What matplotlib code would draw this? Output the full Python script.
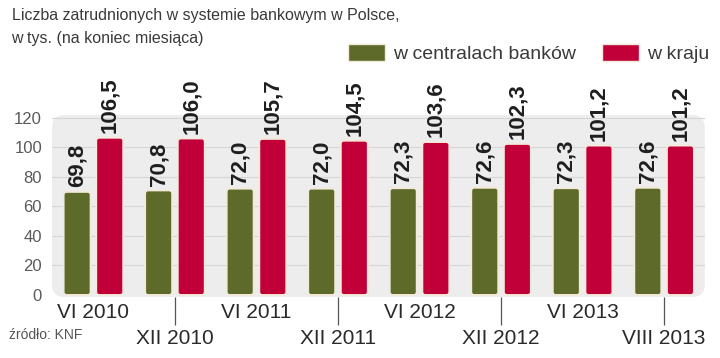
import matplotlib
matplotlib.use("Agg")
import numpy as np
import matplotlib.pyplot as plt
from matplotlib.patches import FancyBboxPatch, Patch

plt.rcParams['font.family'] = ['Liberation Sans', 'DejaVu Sans']

periods = ['VI 2010', 'XII 2010', 'VI 2011', 'XII 2011',
           'VI 2012', 'XII 2012', 'VI 2013', 'VIII 2013']
centrale = [69.8, 70.8, 72.0, 72.0, 72.3, 72.6, 72.3, 72.6]
kraj = [106.5, 106.0, 105.7, 104.5, 103.6, 102.3, 101.2, 101.2]
yticks = [0, 20, 40, 60, 80, 100, 120]

green = '#5d6a2a'
red = '#c1003a'
edge = '#f4ead9'

fig = plt.figure(figsize=(7.2, 3.58), dpi=100)
ax = fig.add_axes([0.072, 0.170, 0.907, 0.509])

x = np.arange(len(periods))
w = 0.33
off = 0.2

ax.set_xlim(-0.51, 7.5)
ax.set_ylim(-1.5, 122)

# grey rounded background
ax.patch.set_visible(False)
bg = FancyBboxPatch((0, 0), 1, 1, boxstyle="round,pad=0,rounding_size=0.02",
                    mutation_aspect=3.6, transform=ax.transAxes,
                    facecolor='#ededed', edgecolor='none', zorder=0)
ax.add_patch(bg)
for t in yticks[1:]:
    ax.axhline(t, color='#d6d6d6', lw=0.8, zorder=0.5)

b1 = ax.bar(x - off, centrale, w, color=green, zorder=2)
b2 = ax.bar(x + off, kraj, w, color=red, zorder=2)

# swap plain bars for slightly rounded ones
for bars, col in ((b1, green), (b2, red)):
    for r in bars:
        ax.add_patch(FancyBboxPatch((r.get_x(), r.get_y()), r.get_width(), r.get_height(),
                                    boxstyle="round,pad=0,rounding_size=0.035",
                                    mutation_aspect=55, facecolor=col, edgecolor=edge,
                                    linewidth=1.3, zorder=2))
        r.set_visible(False)

def fmt(v):
    return ('%.1f' % v).replace('.', ',')

for bars, vals in ((b1, centrale), (b2, kraj)):
    for r, v in zip(bars, vals):
        ax.annotate(fmt(v), (r.get_x() + r.get_width() / 2, v),
                    xytext=(0, 3.5), textcoords='offset points',
                    rotation=90, ha='center', va='bottom',
                    fontsize=16, fontweight='bold', color='#1e1e1e',
                    annotation_clip=False, zorder=3)

ax.set_yticks(yticks)
ax.tick_params(axis='y', length=0, pad=7, labelsize=12, labelcolor='#5a5a5a')

# VI labels close, XII/VIII labels lower with a tick line
ax.set_xticks(x[1::2])
ax.set_xticklabels(periods[1::2])
ax.set_xticks(x[0::2], minor=True)
ax.set_xticklabels(periods[0::2], minor=True)
ax.tick_params(axis='x', which='major', length=20, width=0.9, color='#555555',
               pad=3, labelsize=15, labelcolor='#2a2a2a')
ax.tick_params(axis='x', which='minor', length=0, pad=4,
               labelsize=15, labelcolor='#2a2a2a')

for s in ax.spines.values():
    s.set_visible(False)

fig.text(0.016, 0.978, 'Liczba zatrudnionych w systemie bankowym w Polsce,\nw tys. (na koniec miesiąca)',
         ha='left', va='top', fontsize=11.5, color='#3a3a3a', linespacing=1.7)

fig.legend(handles=[Patch(facecolor=green, edgecolor=edge), Patch(facecolor=red, edgecolor=edge)],
           labels=['w centralach banków', 'w kraju'], ncol=2, frameon=False,
           loc='center right', bbox_to_anchor=(1.010, 0.850), fontsize=14,
           handlelength=1.9, handleheight=1.0, handletextpad=0.45, columnspacing=1.3,
           labelcolor='#3a3a3a')

fig.text(0.013, 0.065, 'źródło: KNF', ha='left', va='center', fontsize=10, color='#555555')

fig.savefig('out.png', dpi=100)
